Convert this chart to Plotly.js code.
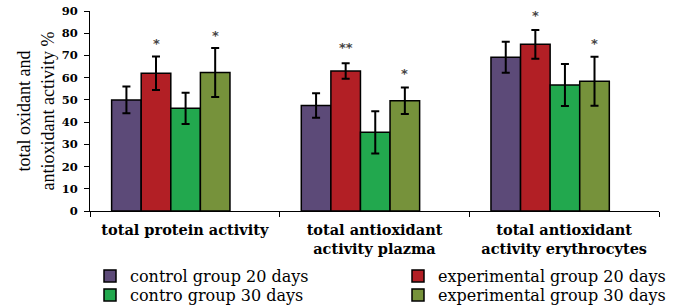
<!DOCTYPE html>
<html>
<head>
<meta charset="utf-8">
<script src="https://cdn.plot.ly/plotly-3.0.1.min.js"></script>
<style>html,body{margin:0;padding:0;background:#fff;}#chart{width:677px;height:305px;}</style>
</head>
<body>
<div id="chart"></div>
<script>
// ---- data ----
const categories = ["total protein activity", "total antioxidant<br>activity plazma", "total antioxidant<br>activity erythrocytes"];
const seriesNames = ["control group 20 days", "experimental group 20 days", "contro group 30 days", "experimental group 30 days"];
const control20 = [50, 47.5, 69.2];
const control20Err = [6, 5.5, 7];
const experimental20 = [62, 63, 75];
const experimental20Err = [7.5, 3.5, 6.5];
const control30 = [46.2, 35.4, 56.7];
const control30Err = [7, 9.5, 9.5];
const experimental30 = [62.3, 49.6, 58.4];
const experimental30Err = [11, 6, 11];
// significance marks
const starSeries = [1, 3, 1, 3, 1, 3];
const starCategory = [0, 0, 1, 1, 2, 2];
const starLabels = ["*", "*", "**", "*", "*", "*"];
const starY = [75.5, 79.2, 73.7, 61.7, 88.2, 75.3];

// ---- style ----
const colors = ["#5c4a78", "#b21f25", "#22a84e", "#76923b"];
const barWidth = 0.156;
const offsets = [-0.386, -0.23, -0.074, 0.082];
const values = [control20, experimental20, control30, experimental30];
const errs = [control20Err, experimental20Err, control30Err, experimental30Err];
const legendIds = ["legend", "legend2", "legend3", "legend4"];
// legend item placement in pixels (left, vertical centre)
const legendPos = [[90, 276], [398, 276], [90, 295], [398, 295]];

const traces = values.map((v, i) => ({
  type: "bar",
  name: seriesNames[i],
  x: categories,
  y: v,
  width: barWidth,
  offset: offsets[i],
  legend: legendIds[i],
  marker: {color: colors[i], line: {color: "#000", width: 1.5}},
  error_y: {type: "data", array: errs[i], visible: true, color: "#000", thickness: 2, width: 4}
}));

const annotations = starLabels.map((t, k) => ({
  x: starCategory[k] + offsets[starSeries[k]] + barWidth / 2,
  y: starY[k],
  xref: "x", yref: "y",
  text: t,
  showarrow: false,
  font: {family: "DejaVu Sans", size: 13, color: "#444", weight: "bold"}
}));

const W = 677, H = 305;
const legendFont = {family: "DejaVu Serif", size: 16, color: "#000"};
const layout = {
  width: W, height: H,
  margin: {l: 90, r: 18, t: 11, b: 94},
  paper_bgcolor: "#fff", plot_bgcolor: "#fff",
  barmode: "overlay",
  showlegend: true,
  xaxis: {
    type: "category", range: [-0.5, 2.5], tickson: "boundaries",
    ticks: "outside", ticklen: 5, tickcolor: "#000",
    showline: true, linecolor: "#000", linewidth: 1,
    showgrid: false, zeroline: false,
    ticklabelstandoff: 6,
    tickfont: {family: "DejaVu Serif", size: 14.5, color: "#000", weight: "bold"},
    automargin: false
  },
  yaxis: {
    range: [0, 90], dtick: 10, tick0: 0,
    ticks: "outside", ticklen: 5, tickcolor: "#000",
    showline: true, linecolor: "#000", linewidth: 1,
    showgrid: false, zeroline: false,
    ticklabelstandoff: 4,
    tickfont: {family: "DejaVu Serif", size: 11.5, color: "#000", weight: "bold"},
    title: {text: "total oxidant and<br>antioxidant activity %", font: {family: "Liberation Serif", size: 18, color: "#000"}, standoff: 2},
    automargin: false
  },
  annotations: annotations
};
legendIds.forEach((id, i) => {
  layout[id] = {
    orientation: "h", xref: "container", yref: "container",
    x: legendPos[i][0] / W, xanchor: "left",
    y: 1 - legendPos[i][1] / H, yanchor: "middle",
    font: legendFont, bgcolor: "rgba(0,0,0,0)", borderwidth: 0
  };
});

Plotly.newPlot("chart", traces, layout, {displayModeBar: false, staticPlot: true});
</script>
</body>
</html>
